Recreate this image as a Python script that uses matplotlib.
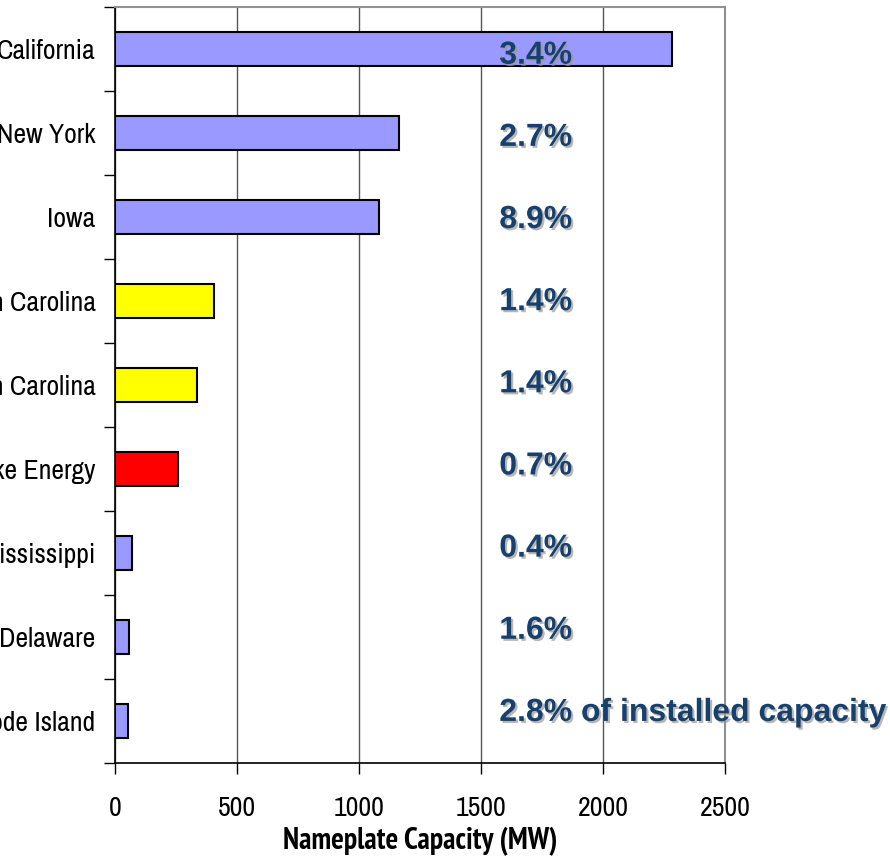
import matplotlib.pyplot as plt
import matplotlib.patheffects as pe
import numpy as np
from matplotlib import font_manager

# Wind capacity by state / utility
names = ["California", "New York", "Iowa", "North Carolina", "South Carolina",
         "Duke Energy", "Mississippi", "Delaware", "Rhode Island"]
capacity_mw = [2283, 1164, 1082, 406, 336, 258, 70, 57, 53]
share_labels = ["3.4%", "2.7%", "8.9%", "1.4%", "1.4%", "0.7%", "0.4%", "1.6%",
                "2.8% of installed capacity"]
bar_colors = ["#9999ff", "#9999ff", "#9999ff", "#ffff00", "#ffff00",
              "#ff0000", "#9999ff", "#9999ff", "#9999ff"]

# pick a narrow sans for the axis text, falling back to a regular one
candidates = ["Liberation Sans Narrow", "Arial Narrow", "Archivo Narrow",
              "PT Sans Narrow", "Roboto Condensed", "Arimo"]
fonts = font_manager.fontManager.ttflist
avail = {f.name for f in fonts}
narrow = next((f for f in candidates if f in avail), "Liberation Sans")


def has_static_bold(name):
    # only a real bold file counts; variable fonts render at their default weight
    for f in fonts:
        if f.name != name or "[" in f.fname:
            continue
        w = f.weight
        if isinstance(w, str):
            if "bold" in w.lower():
                return True
        elif w >= 600:
            return True
    return False


narrow_bold = next((f for f in candidates if f in avail and has_static_bold(f)), None)

fig = plt.figure(figsize=(8.9, 8.68), dpi=100, facecolor="white")
ax = fig.add_axes([115 / 890, 105 / 868, 610 / 890, 756 / 868])

y = np.arange(len(names))
ax.barh(y, capacity_mw, height=0.4, color=bar_colors, edgecolor="black",
        linewidth=1.5, zorder=3)

ax.set_ylim(len(names) - 0.5, -0.5)
ax.set_xlim(0, 2500)
ax.set_xticks([0, 500, 1000, 1500, 2000, 2500])
ax.set_yticks(y)
ax.set_yticklabels(names, fontsize=20, family=narrow)
ax.set_yticks(np.arange(-0.5, len(names)), minor=True)
ax.tick_params(axis="y", which="major", length=0, pad=14)
ax.tick_params(axis="y", which="minor", length=8, width=1, color="black")
ax.tick_params(axis="x", length=8, width=1, pad=16, labelsize=20)
for lbl in ax.get_xticklabels():
    lbl.set_family(narrow)

ax.grid(axis="x", color="#555555", linewidth=1, zorder=0)
for side in ("top", "right"):
    ax.spines[side].set_color("#909090")
    ax.spines[side].set_linewidth(1.5)
for side in ("left", "bottom"):
    ax.spines[side].set_color("black")
    ax.spines[side].set_linewidth(1.2)

if narrow_bold:
    ax.set_xlabel("Nameplate Capacity (MW)", fontsize=21.5, fontweight="bold",
                  family=narrow_bold, labelpad=4)
else:
    ax.set_xlabel("Nameplate Capacity (MW)", fontsize=15, fontweight="bold",
                  family="Liberation Sans", labelpad=8)

# Share-of-capacity annotations, stepped slightly tighter than the bars
shadow = [pe.SimplePatchShadow(offset=(1.5, -1.5), shadow_rgbFace="#999999", alpha=0.7),
          pe.Normal()]
for i, txt in enumerate(share_labels):
    ax.text(1575, 0.08 + 0.978 * i, txt, fontsize=23, fontweight="bold", color="#17406d",
            family="Liberation Sans", ha="left", va="center", zorder=5,
            clip_on=False, path_effects=shadow)

fig.savefig("out.png", dpi=100, facecolor="white")
